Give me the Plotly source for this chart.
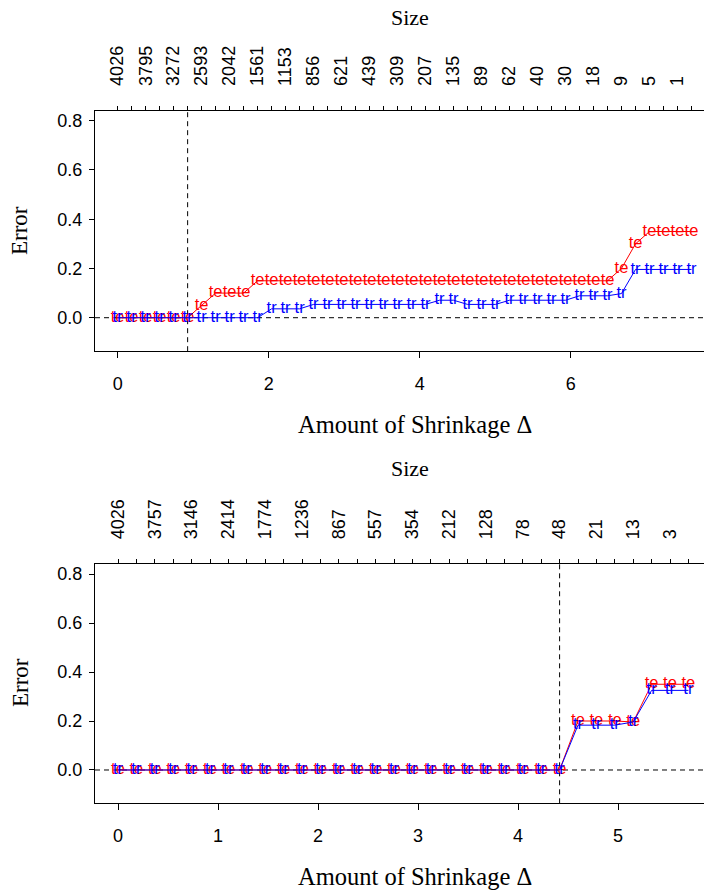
import plotly.graph_objects as go

# ---- upper panel: shrinkage thresholds, gene counts, test / training error ----
thr_top = [0.000, 0.185, 0.371, 0.556, 0.741, 0.927, 1.112, 1.298, 1.483, 1.668,
           1.854, 2.039, 2.224, 2.410, 2.595, 2.780, 2.966, 3.151, 3.337, 3.522,
           3.707, 3.893, 4.078, 4.263, 4.449, 4.634, 4.820, 5.005, 5.190, 5.376,
           5.561, 5.746, 5.932, 6.117, 6.302, 6.488, 6.673, 6.859, 7.044, 7.229,
           7.415, 7.600]
size_top = ["4026", "3795", "3272", "2593", "2042", "1561", "1153", "856", "621",
            "439", "309", "207", "135", "89", "62", "40", "30", "18", "9", "5", "1"]
te_top = [0.00, 0.00, 0.00, 0.00, 0.00, 0.00, 0.05, 0.10, 0.10, 0.10,
          0.15, 0.15, 0.15, 0.15, 0.15, 0.15, 0.15, 0.15, 0.15, 0.15,
          0.15, 0.15, 0.15, 0.15, 0.15, 0.15, 0.15, 0.15, 0.15, 0.15,
          0.15, 0.15, 0.15, 0.15, 0.15, 0.15, 0.20, 0.30, 0.35, 0.35,
          0.35, 0.35]
tr_top = [0.000, 0.000, 0.000, 0.000, 0.000, 0.000, 0.000, 0.000, 0.000, 0.000,
          0.000, 0.036, 0.036, 0.036, 0.054, 0.054, 0.054, 0.054, 0.054, 0.054,
          0.054, 0.054, 0.054, 0.071, 0.071, 0.054, 0.054, 0.054, 0.071, 0.071,
          0.071, 0.071, 0.071, 0.089, 0.089, 0.089, 0.098, 0.196, 0.196, 0.196,
          0.196, 0.196]
cut_top_index = 5

# ---- lower panel ----
thr_bot = [0.000, 0.184, 0.368, 0.552, 0.736, 0.920, 1.104, 1.288, 1.472, 1.656,
           1.840, 2.024, 2.208, 2.392, 2.576, 2.760, 2.944, 3.128, 3.312, 3.496,
           3.680, 3.864, 4.048, 4.232, 4.416, 4.600, 4.784, 4.968, 5.152, 5.336,
           5.520, 5.704]
size_bot = ["4026", "3757", "3146", "2414", "1774", "1236", "867", "557", "354",
            "212", "128", "78", "48", "21", "13", "3"]
te_bot = [0.0] * 25 + [0.200, 0.200, 0.200, 0.196, 0.350, 0.350, 0.350]
tr_bot = [0.0] * 25 + [0.183, 0.183, 0.183, 0.196, 0.325, 0.325, 0.325]
cut_bot_index = 24

y_ticks = [0.0, 0.2, 0.4, 0.6, 0.8]
y_tick_text = ["0.0", "0.2", "0.4", "0.6", "0.8"]

W, H = 704, 893
RED, BLUE = "#ff0000", "#0000ff"
SANS = "Liberation Sans, Arial, sans-serif"
SERIF = "Liberation Serif, Times New Roman, serif"
TICK_FONT = dict(family=SANS, size=18, color="black")
TOP_FONT = dict(family=SANS, size=18, color="black")
MARK_SIZE = 16.5

X_DOMAIN = [95 / W, 1.0]
Y_RANGE = [-0.136, 0.8414]
dom_top = [1 - 351.2 / H, 1 - 110.5 / H]
dom_bot = [1 - 803.3 / H, 1 - 563.9 / H]


def alt_labels(sizes, n):
    return [sizes[i // 2] if i % 2 == 0 else "" for i in range(n)]


fig = go.Figure()


def add_series(thr, te, tr, xa, ya, xa_size):
    fig.add_trace(go.Scatter(
        x=thr, y=te, mode="lines+text", text=["te"] * len(thr),
        textposition="middle center",
        textfont=dict(family=SANS, size=MARK_SIZE, color=RED),
        line=dict(color=RED, width=1), xaxis=xa, yaxis=ya,
        hoverinfo="skip", cliponaxis=False))
    fig.add_trace(go.Scatter(
        x=thr, y=tr, mode="lines+text", text=["tr"] * len(thr),
        textposition="middle center",
        textfont=dict(family=SANS, size=MARK_SIZE, color=BLUE),
        line=dict(color=BLUE, width=1), xaxis=xa, yaxis=ya,
        hoverinfo="skip", cliponaxis=False))
    # invisible carrier so the gene-count axis on top gets drawn
    fig.add_trace(go.Scatter(
        x=thr, y=te, mode="markers", marker=dict(opacity=0, size=1),
        xaxis=xa_size, yaxis=ya, hoverinfo="skip", showlegend=False))


add_series(thr_top, te_top, tr_top, "x", "y", "x2")
add_series(thr_bot, te_bot, tr_bot, "x3", "y2", "x4")

dash = dict(color="black", width=1, dash="5px,4px")
shapes = []
for xa, ya, cut in (("x", "y", thr_top[cut_top_index]),
                    ("x3", "y2", thr_bot[cut_bot_index])):
    shapes.append(dict(type="line", xref=xa + " domain", yref=ya, x0=0, x1=1,
                       y0=0, y1=0, line=dash, layer="below"))
    shapes.append(dict(type="line", xref=xa, yref=ya + " domain", x0=cut, x1=cut,
                       y0=0, y1=1, line=dash, layer="below"))


def bottom_axis(rng, ticks, anchor):
    return dict(domain=X_DOMAIN, range=rng, anchor=anchor, tickvals=ticks,
                ticktext=[str(t) for t in ticks], ticks="outside", ticklen=6,
                tickcolor="black", showline=True, linecolor="black",
                linewidth=1, mirror=True, showgrid=False, zeroline=False,
                tickfont=TICK_FONT, ticklabelstandoff=10)


def size_axis(rng, thr, sizes, over, anchor):
    return dict(domain=X_DOMAIN, range=rng, overlaying=over, side="top",
                anchor=anchor, tickmode="array", tickvals=thr,
                ticktext=alt_labels(sizes, len(thr)), tickangle=-90,
                ticks="outside", ticklen=4, tickcolor="black",
                showline=False, showgrid=False, zeroline=False,
                tickfont=TOP_FONT, ticklabelstandoff=16)


def error_axis(dom, anchor):
    return dict(domain=dom, range=Y_RANGE, anchor=anchor, tickvals=y_ticks,
                ticktext=y_tick_text, ticks="outside", ticklen=5,
                tickcolor="black", showline=True, linecolor="black",
                linewidth=1, mirror=False, showgrid=False, zeroline=False,
                tickfont=TICK_FONT, ticklabelstandoff=3)


rng_top = [-0.30, 7.766]
rng_bot = [-0.23, 5.86]

fig.update_layout(
    width=W, height=H, margin=dict(l=0, r=0, t=0, b=0),
    paper_bgcolor="white", plot_bgcolor="white", showlegend=False,
    xaxis=bottom_axis(rng_top, [0, 2, 4, 6], "y"),
    xaxis2=size_axis(rng_top, thr_top, size_top, "x", "y"),
    yaxis=error_axis(dom_top, "x"),
    xaxis3=bottom_axis(rng_bot, [0, 1, 2, 3, 4, 5], "y2"),
    xaxis4=size_axis(rng_bot, thr_bot, size_bot, "x3", "y2"),
    yaxis2=error_axis(dom_bot, "x3"),
    shapes=shapes,
)

notes = [
    ("Size", 410, 17, 0, 22),
    ("Amount of Shrinkage \u0394", 415, 424, 0, 24.5),
    ("Error", 20, 231, -90, 23),
    ("Size", 410, 468, 0, 22),
    ("Amount of Shrinkage \u0394", 415, 876, 0, 24.5),
    ("Error", 20, 683, -90, 23),
]
for txt, px, py, ang, fs in notes:
    fig.add_annotation(text=txt, xref="paper", yref="paper", x=px / W,
                       y=1 - py / H, xanchor="center", yanchor="middle",
                       showarrow=False, textangle=ang,
                       font=dict(family=SERIF, size=fs, color="black"))

fig.write_html("out.html")
